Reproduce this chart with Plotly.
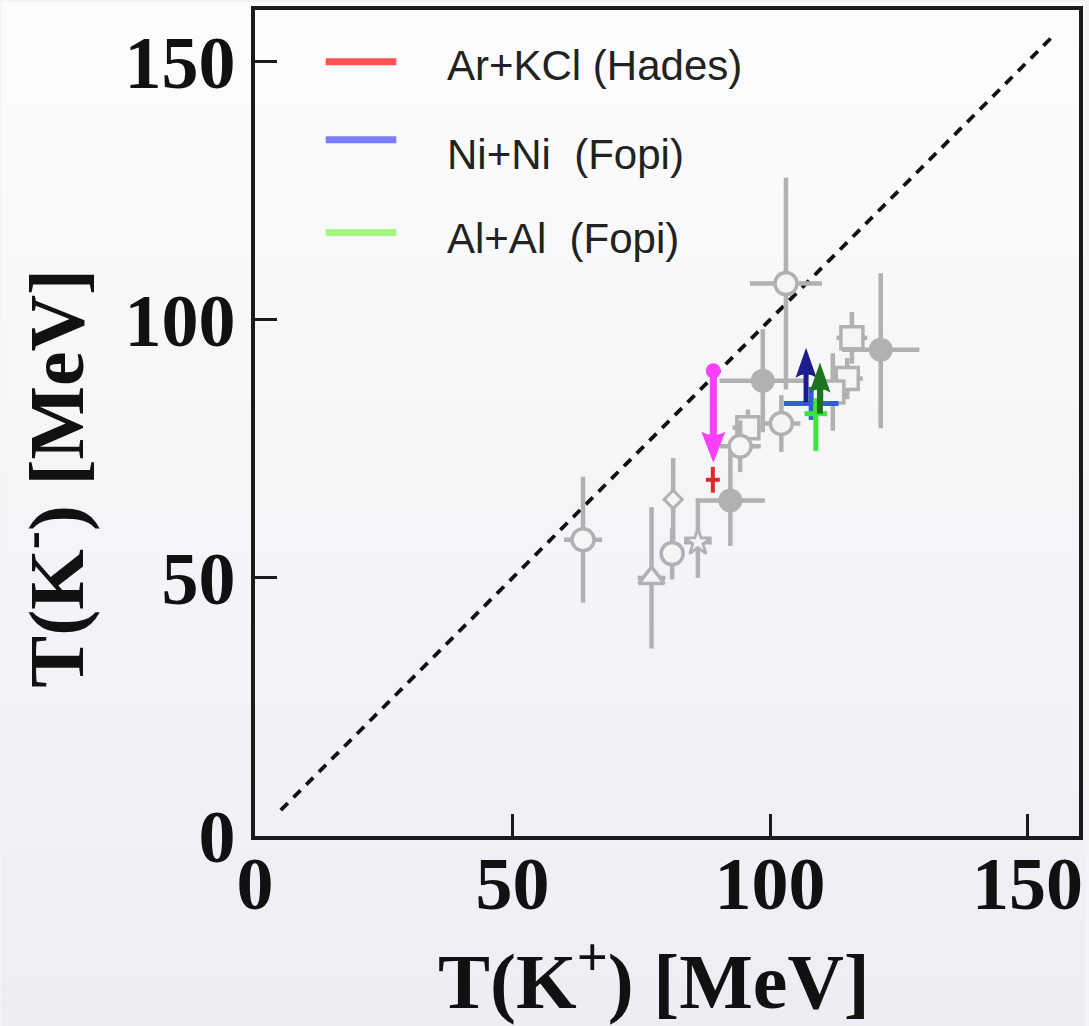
import plotly.graph_objects as go

# ---------------- data ----------------
tick_vals = [0, 50, 100, 150]
tick_text = ["0", "50", "100", "150"]

# T(K-) = T(K+) reference line
diag_x = [5, 155]
diag_y = [5, 155]

# compiled systematics (gray) - filled circles
fc_x = [121.5, 98.6, 92.3]
fc_y = [94.2, 88.2, 65.0]
fc_xerr = [7.5, 8.4, 6.7]
fc_yerr_plus = [14.8, 10.0, 10.9]
fc_yerr_minus = [15.2, 10.0, 8.8]

# open circles
oc_x = [103.1, 102.2, 94.2, 81.0, 63.7]
oc_y = [107.0, 79.9, 75.5, 54.7, 57.4]
oc_xerr = [7.0, 3.7, 4.0, 0.0, 3.7]
oc_yerr = [20.5, 5.5, 5.0, 5.0, 12.2]

# open squares
sq_x = [115.9, 115.0, 112.2, 95.7]
sq_y = [96.5, 88.6, 86.0, 79.1]
sq_xerr = [3.0, 3.0, 3.0, 3.0]
sq_yerr = [5.0, 4.0, 7.5, 3.5]

# open diamond
dm_x = [81.2]
dm_y = [65.2]
dm_yerr = [8.0]

# open triangle
tr_x = [77.0]
tr_y = [50.0]
tr_xerr = [2.7]
tr_yerr = [13.7]

# open star
st_x = [86.0]
st_y = [56.9]
st_xerr = [2.7]
st_yerr_plus = [8.4]
st_yerr_minus = [6.9]

# highlighted systems
hades_x = [88.9]
hades_y = [69.0]
hades_xerr = [1.35]
hades_yerr = [2.5]

nini_x = [108.0]
nini_y = [83.8]
nini_xerr = [5.3]
nini_yerr = [3.2]

alal_x = [108.9]
alal_y = [81.8]
alal_xerr = [2.2]
alal_yerr_plus = [3.0]
alal_yerr_minus = [7.2]

# shifted values (arrows): x, start, end
arrow_x = [89.0, 107.0, 109.7]
arrow_from = [90.1, 84.0, 81.8]
arrow_to = [72.3, 94.6, 91.7]
arrow_colors = ["#fd3ffb", "#1b1d8c", "#1e731e"]
arrow_widths = [7, 5, 6]
arrow_head_w = [24, 21, 21]
arrow_head_l = [31, 30, 30]

legend_labels = ["Ar+KCl (Hades)", "Ni+Ni\u00a0\u00a0(Fopi)", "Al+Al\u00a0\u00a0(Fopi)"]
legend_colors = ["#ff5252", "#7b7bff", "#a2f87c"]

# ---------------- styling ----------------
GRAY = "#b1b1b3"
HOLE = "#f5f5f8"
AXIS = "#1b1b1b"
ERR_T = 4.5

L, R, T, B = 255, 6, 8, 190
W, H = 1089, 1026
PW = W - L - R
PH = H - T - B


def px2paper_x(px):
    return (px - L) / PW


def px2paper_y(py):
    return (H - B - py) / PH


fig = go.Figure()

# reference diagonal
fig.add_trace(go.Scatter(x=diag_x, y=diag_y, mode="lines",
                         line=dict(color="#111111", width=3.8, dash="10px,8px"),
                         hoverinfo="skip"))


def gray_points(x, y, symbol, size, xerr=None, yp=None, ym=None, filled=False, lw=3.5):
    ex = dict(type="data", array=xerr, thickness=ERR_T, width=0, color=GRAY) if xerr else dict(visible=False)
    ey = dict(type="data", array=yp, arrayminus=ym if ym else yp,
              thickness=ERR_T, width=0, color=GRAY) if yp else dict(visible=False)
    marker = dict(symbol=symbol, size=size,
                  color=GRAY if filled else HOLE,
                  line=dict(color=GRAY, width=0 if filled else lw))
    fig.add_trace(go.Scatter(x=x, y=y, mode="markers", marker=marker,
                             error_x=ex, error_y=ey))


gray_points(tr_x, tr_y, "triangle-up", 22, tr_xerr, tr_yerr)
gray_points(st_x, st_y, "star", 20, st_xerr, st_yerr_plus, st_yerr_minus, lw=2.8)
gray_points(dm_x, dm_y, "diamond", 14, None, dm_yerr, lw=3)
gray_points(fc_x, fc_y, "circle", 24, fc_xerr, fc_yerr_plus, fc_yerr_minus, filled=True)
gray_points(sq_x, sq_y, "square", 22, sq_xerr, sq_yerr)
gray_points(oc_x, oc_y, "circle", 22, oc_xerr, oc_yerr)


def cross(x, y, xerr, yp, ym, color, th):
    fig.add_trace(go.Scatter(
        x=x, y=y, mode="markers", marker=dict(size=1, color=color, opacity=0),
        error_x=dict(type="data", array=xerr, thickness=th, width=0, color=color),
        error_y=dict(type="data", array=yp, arrayminus=ym, thickness=th, width=0, color=color)))


cross(hades_x, hades_y, hades_xerr, hades_yerr, hades_yerr, "#e3262a", 4)
cross(nini_x, nini_y, nini_xerr, nini_yerr, nini_yerr, "#2f5fd6", 5)
cross(alal_x, alal_y, alal_xerr, alal_yerr_plus, alal_yerr_minus, "#3ee43e", 5)

# arrows: shaft as a line, head as a pixel-sized path anchored at the tip
shapes = []
for i in range(len(arrow_x)):
    up = arrow_to[i] > arrow_from[i]
    sgn = 1 if up else -1
    # shaft stops inside the head (head length ~5.8 units)
    shaft_end = arrow_to[i] - sgn * 4.0
    fig.add_trace(go.Scatter(x=[arrow_x[i], arrow_x[i]], y=[arrow_from[i], shaft_end],
                             mode="lines", line=dict(color=arrow_colors[i], width=arrow_widths[i])))
    hw = arrow_head_w[i] / 2
    hl = arrow_head_l[i]
    back = hl * 0.78
    # pixel offsets, +y is up
    b = -sgn * hl
    bb = -sgn * back
    path = f"M0,0 L{-hw},{b} Q0,{bb} {hw},{b} Z"
    shapes.append(dict(type="path", xref="x", yref="y", xsizemode="pixel", ysizemode="pixel",
                       xanchor=arrow_x[i], yanchor=arrow_to[i], path=path,
                       fillcolor=arrow_colors[i], line=dict(width=0), layer="above"))

# starting point of the shifted Hades value
fig.add_trace(go.Scatter(x=[arrow_x[0]], y=[arrow_from[0]], mode="markers",
                         marker=dict(size=15, color=arrow_colors[0])))

# background: soft vertical gradient over the whole figure
top_rgb = (252, 252, 252)
bot_rgb = (237, 238, 244)
n_bands = 48
y_top = px2paper_y(0)
y_bot = px2paper_y(H)
bg = []
for k in range(n_bands):
    f = (k + 0.5) / n_bands
    c = tuple(round(top_rgb[j] + (bot_rgb[j] - top_rgb[j]) * f) for j in range(3))
    ya = y_top + (y_bot - y_top) * k / n_bands
    yb = y_top + (y_bot - y_top) * (k + 1) / n_bands
    bg.append(dict(type="rect", xref="paper", yref="paper",
                   x0=px2paper_x(0), x1=px2paper_x(W), y0=yb - 0.002, y1=ya,
                   fillcolor="rgb(%d,%d,%d)" % c, line=dict(width=0), layer="below"))

# legend samples
legend_line_y = [60, 138, 231]
legend_text_y = [64, 153, 237]
annotations = []
for i in range(3):
    shapes.append(dict(type="line", xref="paper", yref="paper",
                       x0=px2paper_x(326), x1=px2paper_x(397),
                       y0=px2paper_y(legend_line_y[i]), y1=px2paper_y(legend_line_y[i]),
                       line=dict(color=legend_colors[i], width=7)))
    annotations.append(dict(xref="paper", yref="paper", x=px2paper_x(446), y=px2paper_y(legend_text_y[i]),
                            xanchor="left", yanchor="middle", showarrow=False, text=legend_labels[i],
                            font=dict(family="Liberation Sans, Arial", size=42, color="#222222")))

# axis titles
title_font = dict(family="Liberation Serif, Times New Roman", size=78, color="#111111", weight="bold")
annotations.append(dict(xref="paper", yref="paper", x=px2paper_x(656), y=px2paper_y(976),
                        xanchor="center", yanchor="middle", showarrow=False,
                        text="T(K<sup>+</sup>) [MeV]", font=title_font))
annotations.append(dict(xref="paper", yref="paper", x=px2paper_x(50), y=px2paper_y(477),
                        xanchor="center", yanchor="middle", showarrow=False, textangle=-90,
                        text="T(K<sup>-</sup>) [MeV]", font=title_font))

tick_font = dict(family="Liberation Serif, Times New Roman", size=74, color="#111111", weight="bold")
axis_common = dict(range=[0, 160], tickvals=tick_vals, ticktext=tick_text, ticks="inside",
                   ticklen=22, tickwidth=3, tickcolor=AXIS, showline=True, linewidth=3.5,
                   linecolor=AXIS, mirror=True, showgrid=False, zeroline=False, tickfont=tick_font)

fig.update_xaxes(**axis_common, ticklabelstandoff=-20)
fig.update_yaxes(**axis_common, ticklabelstandoff=1)

fig.update_layout(width=W, height=H, margin=dict(l=L, r=R, t=T, b=B, pad=0),
                  paper_bgcolor="#f4f4f7", plot_bgcolor="rgba(0,0,0,0)",
                  showlegend=False, shapes=bg + shapes, annotations=annotations)

fig.write_html("out.html")
